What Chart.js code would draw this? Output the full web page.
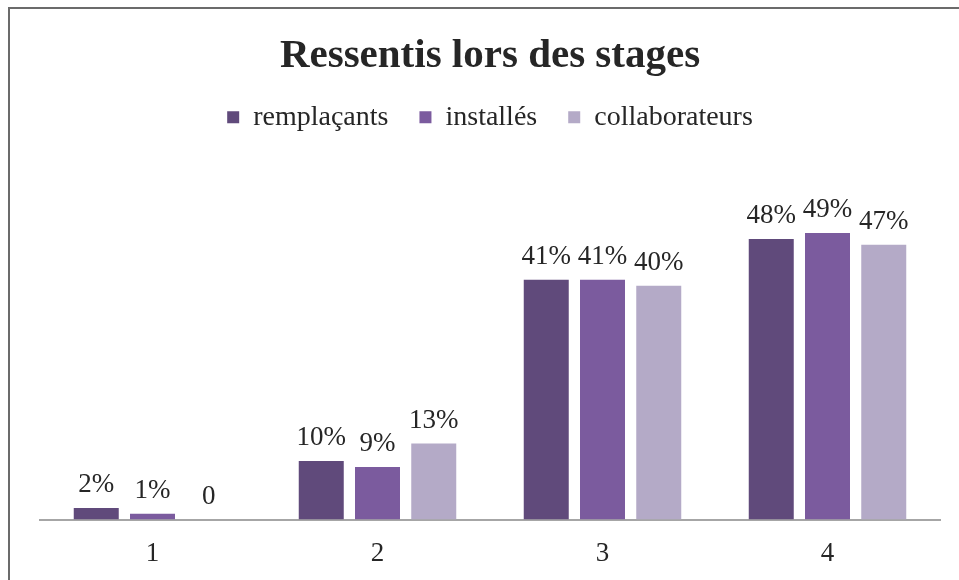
<!DOCTYPE html>
<html>
<head>
<meta charset="utf-8">
<script src="https://cdn.jsdelivr.net/npm/chart.js@4/dist/chart.umd.min.js"></script>
<style>
  html, body { margin: 0; padding: 0; background: #fff; overflow: hidden; }
  #frame { position: absolute; left: 8px; top: 7px; width: 2000px; height: 2000px; border: 2px solid #6b6b6b; }
  #wrap { position: absolute; left: 0; top: 0; width: 959px; height: 588px; }
</style>
</head>
<body>
<div id="frame"></div>
<div id="wrap"><canvas id="chart"></canvas></div>
<script>
(function () {
    'use strict';

    var categories = ['1', '2', '3', '4'];
    var remplacants = [2, 10, 41, 48];
    var installes = [1, 9, 41, 49];
    var collaborateurs = [0, 13, 40, 47];
    var seriesNames = ['remplaçants', 'installés', 'collaborateurs'];
    var seriesColors = ['#604a7b', '#7b5b9e', '#b4aac7'];

    var serif = "'Liberation Serif', 'DejaVu Serif', serif";
    var textColor = '#262626';

    // valeurs au-dessus des barres
    var barLabels = {
        id: 'barLabels',
        afterDatasetsDraw: function (chart) {
            var ctx = chart.ctx;
            ctx.save();
            ctx.font = '27px ' + serif;
            ctx.fillStyle = textColor;
            ctx.textAlign = 'center';
            ctx.textBaseline = 'alphabetic';
            chart.data.datasets.forEach(function (ds, i) {
                chart.getDatasetMeta(i).data.forEach(function (bar, j) {
                    var v = ds.data[j];
                    var txt = v === 0 ? '0' : v + '%';
                    ctx.fillText(txt, bar.x, bar.y - 16);
                });
            });
            ctx.restore();
        }
    };

    var ctx = document.getElementById('chart').getContext('2d');
    new Chart(ctx, {
        type: 'bar',
        data: {
            labels: categories,
            datasets: [
                { label: seriesNames[0], data: remplacants, backgroundColor: seriesColors[0] },
                { label: seriesNames[1], data: installes, backgroundColor: seriesColors[1] },
                { label: seriesNames[2], data: collaborateurs, backgroundColor: seriesColors[2] }
            ]
        },
        options: {
            responsive: true,
            maintainAspectRatio: false,
            animation: false,
            categoryPercentage: 0.75,
            barPercentage: 0.8,
            layout: { padding: { left: 40, right: 19, top: 0, bottom: 0 } },
            plugins: {
                title: {
                    display: true,
                    text: 'Ressentis lors des stages',
                    color: textColor,
                    font: { family: serif, size: 41, weight: 'bold' },
                    padding: { top: 32, bottom: -9 }
                },
                legend: {
                    display: true,
                    position: 'top',
                    labels: {
                        color: textColor,
                        font: { family: serif, size: 28 },
                        boxWidth: 12,
                        boxHeight: 12,
                        padding: 31
                    }
                },
                tooltip: { enabled: false }
            },
            scales: {
                gap: {
                    type: 'category',
                    position: 'top',
                    display: true,
                    grid: { display: false, drawTicks: false },
                    border: { display: false },
                    ticks: { display: false },
                    afterFit: function (s) { s.height = 86; }
                },
                x: {
                    grid: { display: false, drawTicks: false },
                    border: { display: true, color: '#a6a6a6', width: 2 },
                    ticks: { color: textColor, font: { family: serif, size: 27 }, padding: 18 }
                },
                y: {
                    display: false,
                    min: 0,
                    max: 50
                }
            }
        },
        plugins: [barLabels]
    });
})();
</script>
</body>
</html>
